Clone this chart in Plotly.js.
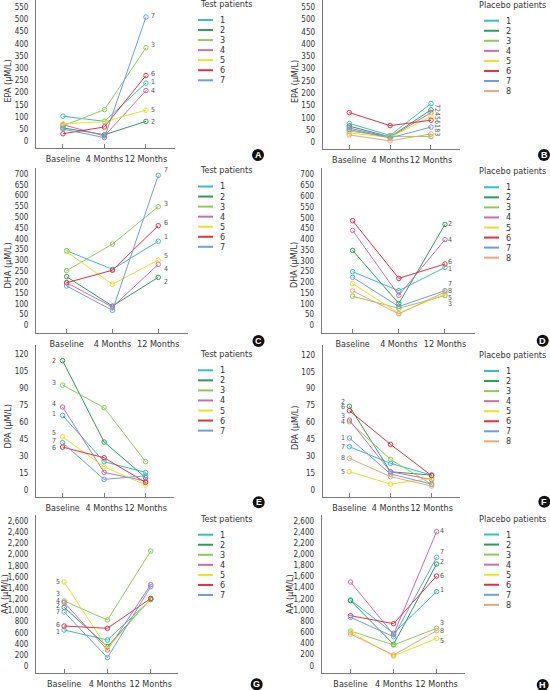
<!DOCTYPE html>
<html>
<head>
<meta charset="utf-8">
<script src="https://cdn.plot.ly/plotly-3.0.1.min.js"></script>
<style>
html,body{margin:0;padding:0;background:#fff;}
#chart{width:550px;height:690px;}
</style>
</head>
<body>
<div id="chart"></div>
<script>
// ---------- data ----------
const categories = ['Baseline', '4 Months', '12 Months'];
const seriesColors = ['#35bfc9', '#2e9a5e', '#93c95a', '#c86fa8', '#e3e32a', '#e23240', '#6e9fdc', '#e9a77a'];
const legendNumbers = ['1', '2', '3', '4', '5', '6', '7', '8'];

// EPA (µM/L)
const epaTest = [[103, 82, 239], [55, 27, 82], [63, 130, 384], [68, 22, 208], [72, 80, 128], [31, 59, 270], [50, 15, 510]];
const epaPlacebo = [[77, 28, 158], [66, 22, 132], [45, 25, 23], [58, 20, 121], [38, 20, 105], [121, 68, 90], [52, 18, 62], [30, 6, 34]];
// DHA (µM/L)
const dhaTest = [[345, 259, 389], [225, 89, 222], [253, 376, 549], [197, 85, 282], [340, 190, 302], [197, 255, 461], [182, 69, 694]];
const dhaPlacebo = [[249, 161, 269], [348, 101, 469], [135, 79, 138], [441, 139, 398], [194, 56, 146], [486, 218, 285], [223, 87, 161], [160, 53, 155]];
// DPA (µM/L)
const dpaTest = [[66, 24.9, 15.4], [114.7, 42.4, 10.7], [93, 72.9, 24.9], [73.5, 15.4, 7.7], [47, 20.4, 4.1], [37.9, 28.4, 6.5], [41.8, 9.2, 12.4]];
const dpaPlacebo = [[38.3, 23.5, 13], [74.3, 16, 13], [60.5, 27, 4.8], [62, 16, 9], [16, 5, 10], [70.4, 40.4, 12.5], [46, 14, 5], [28, 11.6, 3.3]];
// AA (µM/L)
const aaTest = [[650, 471, 1193], [1055, 352, 1205], [1169, 829, 2063], [1145, 292, 1461], [1509, 322, 1210], [721, 680, 1216], [972, 155, 1425]];
const aaPlacebo = [[1178, 580, 1327], [1166, 383, 1823], [622, 371, 670], [1500, 560, 2403], [598, 173, 490], [897, 753, 1608], [867, 520, 1943], [568, 191, 628]];

// point labels printed next to the lines
const testLabels = ['1', '2', '3', '4', '5', '6', '7'];
const placeboLabels = ['1', '2', '3', '4', '5', '6', '7', '8'];
const epaPlaceboLabels = ['7', '2', '3', '4', '5', '6', '1', '8'];
const dpaPlaceboLabels = ['7', '2', '3', '4', '5', '6', '1', '8'];

// ---------- layout helpers ----------
const W = 550, H = 690;
const px = v => v / W;
const py = v => 1 - v / H;
const FONT = 'Liberation Sans Narrow, DejaVu Sans Condensed, Arial Narrow, sans-serif';
const TXT = '#333';
const AX = '#7a7a7a';

// panel geometry (pixels)
const panels = [
  {id: 'A', data: epaTest, labels: testLabels, title: 'EPA (μM/L)', group: 'Test patients',
   xd: [36, 175], yd: [0, 148.3], xr: [-0.65, 2.7], yr: [-28.7, 580], dtick: 50,
   labelSide: 'right', lx: 7, shifts: [1, -1, 2.3, 0, 0, 1.7, 1],
   tx: 7.5, ty: 81, legX: 198, legY: 20, letter: [258, 155]},
  {id: 'B', data: epaPlacebo, labels: epaPlaceboLabels, title: 'EPA (μM/L)', group: 'Placebo patients',
   xd: [322.7, 460], yd: [0, 149.3], xr: [-0.65, 2.71], yr: [-28.5, 579.6], dtick: 50,
   labelSide: 'stack', lx: 6,
   tx: 295, ty: 82, legX: 484, legY: 20.7, letter: [544, 155]},
  {id: 'C', data: dhaTest, labels: testLabels, title: 'DHA (μM/L)', group: 'Test patients',
   xd: [36, 188], yd: [168, 332.7], xr: [-0.67, 2.65], yr: [-34.2, 728], dtick: 50,
   labelSide: 'right', lx: 8, shifts: [4, -4.7, 3, -4.7, 4, 3, 5],
   tx: 7.5, ty: 266, legX: 198, legY: 186.5, letter: [258.5, 341]},
  {id: 'D', data: dhaPlacebo, labels: placeboLabels, title: 'DHA (μM/L)', group: 'Placebo patients',
   xd: [321.7, 475], yd: [168, 333.3], xr: [-0.67, 2.65], yr: [-37.2, 731], dtick: 50,
   labelSide: 'right', lx: 5, shifts: [-1.3, 0, -8.7, 0, -3.7, 1.7, 6.3, 1],
   tx: 294, ty: 265, legX: 484, legY: 187.3, letter: [542.7, 340.7]},
  {id: 'E', data: dpaTest, labels: testLabels, title: 'DPA (μM/L)', group: 'Test patients',
   xd: [36, 174.3], yd: [345, 496.7], xr: [-0.64, 2.69], yr: [-6.2, 128.6], dtick: 15,
   labelSide: 'left', lx: -9, shifts: [1, 0, 1.7, 3, 4, -0.7, 1.7],
   tx: 7.5, ty: 427, legX: 198, legY: 370.3, letter: [258.7, 502.3]},
  {id: 'F', data: dpaPlacebo, labels: dpaPlaceboLabels, title: 'DPA (μM/L)', group: 'Placebo patients',
   xd: [322.7, 460], yd: [345, 497], xr: [-0.65, 2.69], yr: [-6.5, 128.9], dtick: 15,
   labelSide: 'left', lx: -6, shifts: [0, 4.7, 5.7, -2, 0, 3.3, 0, 0],
   tx: 295, ty: 428, legX: 484, legY: 371, letter: [544.3, 501.7]},
  {id: 'G', data: aaTest, labels: testLabels, title: 'AA (μM/L)', group: 'Test patients',
   xd: [36, 178], yd: [515, 673.3], xr: [-0.65, 2.63], yr: [-125, 2708], dtick: 200,
   labelSide: 'left', lx: -6, shifts: [-2.3, 1, 6.7, 1.3, 0, 1, 0],
   tx: 5, ty: 594, legX: 198, legY: 534.7, letter: [256.7, 684.3]},
  {id: 'H', data: aaPlacebo, labels: placeboLabels, title: 'AA (μM/L)', group: 'Placebo patients',
   xd: [321.7, 465], yd: [515, 673], xr: [-0.67, 2.66], yr: [-131, 2702], dtick: 200,
   labelSide: 'right', lx: 5, shifts: [1.7, 2.3, 5, 1, -2.3, 0, 5.7, 0],
   tx: 290, ty: 594, legX: 484, legY: 534.5, letter: [542.7, 685]}
];

const traces = [];
const layout = {
  width: W, height: H,
  margin: {l: 0, r: 0, t: 0, b: 0},
  paper_bgcolor: '#fff', plot_bgcolor: 'rgba(0,0,0,0)',
  showlegend: false,
  font: {family: FONT, size: 9, color: TXT},
  annotations: [], shapes: []
};

panels.forEach((p, k) => {
  const n = k + 1;
  const xa = n === 1 ? 'xaxis' : 'xaxis' + n;
  const ya = n === 1 ? 'yaxis' : 'yaxis' + n;
  const xr = n === 1 ? 'x' : 'x' + n;
  const yr = n === 1 ? 'y' : 'y' + n;

  layout[xa] = {
    domain: [px(p.xd[0]), px(p.xd[1])], anchor: yr,
    type: 'category', categoryorder: 'array', categoryarray: categories,
    range: p.xr, showline: true, linecolor: AX, linewidth: 1,
    ticks: 'inside', ticklen: 4, tickcolor: AX, tickwidth: 1, tickangle: 0,
    showgrid: false, zeroline: false, fixedrange: true, automargin: false,
    tickfont: {family: FONT, size: 9, color: TXT}, ticklabelstandoff: 2
  };
  layout[ya] = {
    domain: [py(p.yd[1]), py(p.yd[0])], anchor: xr,
    range: p.yr, tick0: 0, dtick: p.dtick, tickformat: ',d',
    showline: true, linecolor: AX, linewidth: 1, automargin: false,
    ticks: '', showgrid: false, zeroline: false, fixedrange: true,
    tickfont: {family: FONT, size: 8, color: TXT}, ticklabelstandoff: 5
  };

  p.data.forEach((vals, i) => {
    traces.push({
      type: 'scatter', mode: 'lines+markers',
      x: categories, y: vals, xaxis: xr, yaxis: yr,
      name: legendNumbers[i],
      line: {color: seriesColors[i], width: 1},
      marker: {symbol: 'circle-open', size: 4.5, color: seriesColors[i], line: {width: 1, color: seriesColors[i]}},
      hoverinfo: 'skip'
    });
    // legend entry (drawn by hand to keep the tight row spacing)
    const ry = p.legY + i * 10.05;
    layout.shapes.push({type: 'line', xref: 'paper', yref: 'paper',
      x0: px(p.legX), x1: px(p.legX + 15), y0: py(ry), y1: py(ry),
      line: {color: seriesColors[i], width: 2}});
    layout.annotations.push({xref: 'paper', yref: 'paper', x: px(p.legX + 20), y: py(ry),
      text: legendNumbers[i], showarrow: false, xanchor: 'left', yanchor: 'middle',
      font: {family: FONT, size: 9, color: TXT}});
  });

  // legend header
  layout.annotations.push({xref: 'paper', yref: 'paper', x: px(p.legX - (p.legX > 300 ? 7 : 0)), y: py(p.legY - 16),
    text: p.group, showarrow: false, xanchor: 'left', yanchor: 'middle',
    font: {family: FONT, size: 9, color: TXT}});

  // axis title
  layout.annotations.push({xref: 'paper', yref: 'paper', x: px(p.tx), y: py(p.ty),
    text: p.title, showarrow: false, textangle: -90, xanchor: 'center', yanchor: 'middle',
    font: {family: FONT, size: 9, color: TXT}});

  // point labels
  if (p.labelSide === 'stack') {
    const order = p.data.map((v, i) => i).sort((a, b) => p.data[b][2] - p.data[a][2]);
    const txt = order.map(i => p.labels[i]).join('');
    const top = Math.max(...p.data.map(v => v[2]));
    const bot = Math.min(...p.data.map(v => v[2]));
    layout.annotations.push({xref: xr, yref: yr, x: 2, y: (top + bot) / 2, xshift: p.lx,
      text: txt, showarrow: false, textangle: 90, xanchor: 'center', yanchor: 'middle',
      font: {family: FONT, size: 7, color: '#555'}});
  } else {
    const col = p.labelSide === 'right' ? 2 : 0;
    p.data.forEach((vals, i) => {
      layout.annotations.push({xref: xr, yref: yr, x: col, y: vals[col],
        xshift: p.lx, yshift: p.shifts[i],
        text: p.labels[i], showarrow: false, xanchor: 'center', yanchor: 'middle',
        font: {family: FONT, size: 7, color: '#555'}});
    });
  }

  // panel letter badge
  const [cx, cy] = p.letter;
  layout.shapes.push({type: 'circle', xref: 'paper', yref: 'paper',
    x0: px(cx - 6), x1: px(cx + 6), y0: py(cy + 6), y1: py(cy - 6),
    fillcolor: '#111', line: {width: 0}});
  layout.annotations.push({xref: 'paper', yref: 'paper', x: px(cx), y: py(cy),
    text: '<b>' + p.id + '</b>', showarrow: false, xanchor: 'center', yanchor: 'middle',
    font: {family: 'Liberation Sans, Arial, sans-serif', size: 9, color: '#fff'}});
});

Plotly.newPlot('chart', traces, layout, {displayModeBar: false, staticPlot: true});
</script>
</body>
</html>
